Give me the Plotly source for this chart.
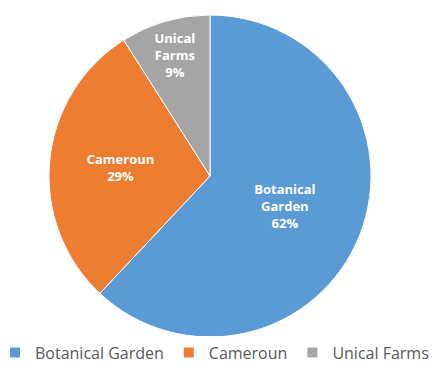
import plotly.graph_objects as go

categories = ["Botanical Garden", "Cameroun", "Unical Farms"]
label_lines = ["Botanical<br>Garden", "Cameroun", "Unical<br>Farms"]
values = [62, 29, 9]
colors = ["#5B9BD5", "#ED7D31", "#A5A5A5"]

W, H = 434, 374
fig = go.Figure(go.Pie(
    labels=categories,
    values=values,
    customdata=label_lines,
    texttemplate="%{customdata}<br>%{percent:.0%}",
    textposition="inside",
    insidetextorientation="horizontal",
    textfont=dict(family="Open Sans, Arial", size=13, color="white", weight="bold"),
    marker=dict(colors=colors, line=dict(color="white", width=1)),
    sort=False,
    direction="clockwise",
    rotation=0,
    domain=dict(x=[49 / W, 371 / W], y=[(H - 337) / H, (H - 15) / H]),
    hoverinfo="label+percent",
))
fig.update_layout(
    width=W, height=H,
    margin=dict(l=0, r=0, t=0, b=0),
    paper_bgcolor="white",
    showlegend=True,
    legend=dict(orientation="h", x=0.49, xanchor="center", y=0.012, yanchor="bottom",
                font=dict(family="Open Sans, Arial", size=16, color="#595959"),
                itemwidth=30, itemsizing="constant", traceorder="normal"),
)
fig.write_html("out.html")
